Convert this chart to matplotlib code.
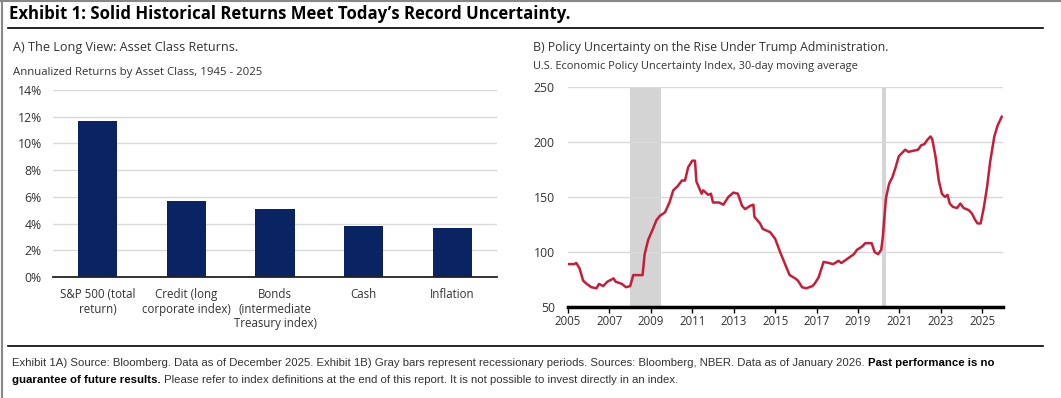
import matplotlib
matplotlib.use("Agg")
import matplotlib.pyplot as plt
from matplotlib.lines import Line2D
import numpy as np

# --- data -------------------------------------------------------------
categories = ["S&P 500 (total\nreturn)", "Credit (long\ncorporate index)",
              "Bonds\n(intermediate\nTreasury index)", "Cash", "Inflation"]
returns = [11.7, 5.7, 5.1, 3.8, 3.7]
pct_ticks = [0, 2, 4, 6, 8, 10, 12, 14]

epu_year = [2005.0, 2005.3, 2005.4, 2005.56, 2005.73, 2005.9, 2006.13, 2006.37,
            2006.5, 2006.7, 2006.9, 2007.2, 2007.3, 2007.6, 2007.8, 2008.0,
            2008.15, 2008.4, 2008.6, 2008.7, 2008.87, 2009.1, 2009.27, 2009.44,
            2009.68, 2009.9, 2010.08, 2010.3, 2010.5, 2010.65, 2010.8, 2011.0,
            2011.13, 2011.2, 2011.45, 2011.53, 2011.77, 2011.9, 2012.0, 2012.3,
            2012.5, 2012.74, 2012.98, 2013.2, 2013.4, 2013.55, 2013.8, 2013.95,
            2014.0, 2014.27, 2014.4, 2014.76, 2015.0, 2015.24, 2015.5, 2015.7,
            2015.97, 2016.1, 2016.3, 2016.5, 2016.8, 2016.9, 2017.1, 2017.34,
            2017.6, 2017.8, 2018.06, 2018.2, 2018.5, 2018.8, 2018.95, 2019.2,
            2019.35, 2019.66, 2019.8, 2019.97, 2020.12, 2020.2, 2020.35, 2020.5,
            2020.66, 2020.8, 2020.97, 2021.12, 2021.28, 2021.43, 2021.66, 2021.9,
            2022.05, 2022.2, 2022.35, 2022.5, 2022.58, 2022.74, 2022.9, 2023.05,
            2023.2, 2023.32, 2023.43, 2023.58, 2023.78, 2023.94, 2024.1, 2024.35,
            2024.5, 2024.66, 2024.77, 2024.92, 2025.08, 2025.23, 2025.38, 2025.58,
            2025.74, 2025.94]
epu_value = [89, 89, 90, 85, 74, 71, 68, 67,
             71, 69, 73, 76, 73, 71, 68, 69,
             79, 79, 79, 98, 111, 121, 129, 133,
             136, 145, 156, 160, 165, 165, 177, 183,
             183, 164, 153, 156, 152, 153, 145, 145,
             143, 150, 154, 153, 142, 139, 142, 143,
             132, 126, 121, 118, 112, 100, 88, 79,
             76, 74, 68, 67, 69, 71, 77, 91,
             90, 89, 92, 90, 94, 98, 102, 105,
             108, 108, 100, 98, 102, 114, 149, 162,
             168, 176, 187, 190, 193, 191, 192, 193,
             197, 198, 202, 205, 203, 187, 165, 153,
             150, 152, 144, 141, 140, 144, 140, 138,
             135, 129, 126, 126, 141, 159, 182, 205,
             215, 223]
recessions = [(2008.0, 2009.5), (2020.17, 2020.33)]
year_ticks = list(range(2005, 2026, 2))
epu_ticks = [50, 100, 150, 200, 250]

NAVY = "#0a2463"
RED = "#c41e3a"
GRID = "#d9d9d9"
TXT = "#333333"
FONT = "Open Sans"

plt.rcParams["font.family"] = [FONT, "DejaVu Sans"]

fig = plt.figure(figsize=(10.61, 3.98), dpi=100)
W, H = 1061, 398


def fx(px):
    return px / W


def fy(py):
    return 1 - py / H


# frame and rules
fig.add_artist(Line2D([fx(2), fx(2)], [0, 1], color="#888888", lw=1.5))
fig.add_artist(Line2D([0, 1], [fy(1), fy(1)], color="#888888", lw=1.5))
fig.add_artist(Line2D([fx(8), fx(1043)], [fy(28), fy(28)], color="black", lw=1.2))
fig.add_artist(Line2D([fx(8), fx(1043)], [fy(346), fy(346)], color="black", lw=1.2))

fig.text(fx(9), fy(14), "Exhibit 1: Solid Historical Returns Meet Today\u2019s Record Uncertainty.",
         fontsize=12.1, fontweight="bold", va="center", color="black")
fig.text(fx(13), fy(47), "A) The Long View: Asset Class Returns.", fontsize=9.1,
         va="center", color=TXT)
fig.text(fx(13), fy(73), "Annualized Returns by Asset Class, 1945 - 2025", fontsize=8.2,
         va="center", color=TXT)
fig.text(fx(533), fy(48), "B) Policy Uncertainty on the Rise Under Trump Administration.",
         fontsize=8.8, va="center", color=TXT)
fig.text(fx(533), fy(67), "U.S. Economic Policy Uncertainty Index, 30-day moving average",
         fontsize=7.9, va="center", color=TXT)

# --- panel A: bars ----------------------------------------------------
ax1 = fig.add_axes([fx(53), fy(277), fx(497 - 53), (277 - 90) / H])
x = np.arange(len(categories))
ax1.bar(x, returns, width=0.44, color=NAVY, zorder=3)
ax1.set_xlim(-0.5, len(categories) - 0.5)
ax1.set_ylim(0, 14)
ax1.set_yticks(pct_ticks)
ax1.set_yticklabels([f"{t}%" for t in pct_ticks])
ax1.set_xticks(x)
ax1.set_xticklabels(categories, linespacing=1.15)
ax1.grid(axis="y", color=GRID, lw=1, zorder=0)
for s in ["top", "right", "left"]:
    ax1.spines[s].set_visible(False)
ax1.spines["bottom"].set_color("#222222")
ax1.spines["bottom"].set_linewidth(1.3)
ax1.spines["bottom"].set_zorder(4)
ax1.tick_params(axis="both", length=0, labelsize=8.3, labelcolor=TXT)
ax1.tick_params(axis="y", pad=8, labelsize=8.8)
ax1.tick_params(axis="x", pad=8)

# --- panel B: policy uncertainty --------------------------------------
ax2 = fig.add_axes([fx(568), fy(307), fx(1003 - 568), (307 - 87) / H])
for a, b in recessions:
    ax2.axvspan(a, b, color="#d4d4d4", lw=0, zorder=1)
ax2.plot(epu_year, epu_value, color=RED, lw=1.8, zorder=3)
ax2.set_xlim(2005, 2026)
ax2.set_ylim(50, 250)
ax2.set_yticks(epu_ticks)
ax2.set_xticks(year_ticks)
ax2.grid(axis="y", color=GRID, lw=1, zorder=0)
for s in ["top", "right", "left"]:
    ax2.spines[s].set_visible(False)
ax2.spines["bottom"].set_color("black")
ax2.spines["bottom"].set_linewidth(2.5)
ax2.tick_params(axis="y", length=0, labelsize=8.8, labelcolor=TXT, pad=9.5)
ax2.tick_params(axis="x", length=4, width=1, direction="out", labelsize=8.3,
                labelcolor=TXT, pad=2)

# --- footnote ---------------------------------------------------------
line1 = ("Exhibit 1A) Source: Bloomberg. Data as of December 2025. Exhibit 1B) Gray bars "
         "represent recessionary periods. Sources: Bloomberg, NBER. Data as of January 2026. ")
bold1 = "Past performance is no"
bold2 = "guarantee of future results."
line2 = (" Please refer to index definitions at the end of this report. It is not possible "
         "to invest directly in an index.")
fs = 8.2
fam = ["Liberation Sans", "DejaVu Sans"]
t1 = fig.text(fx(12), fy(363), line1, fontsize=fs, family=fam, va="center", color=TXT)
t3 = fig.text(fx(12), fy(380), bold2, fontsize=fs, family=fam, va="center",
              fontweight="bold", color="black")
fig.canvas.draw()
r = fig.canvas.get_renderer()
e1 = t1.get_window_extent(r)
fig.text(e1.x1 / W, fy(363), bold1, fontsize=fs, family=fam, va="center",
         fontweight="bold", color="black")
e3 = t3.get_window_extent(r)
fig.text(e3.x1 / W, fy(380), line2, fontsize=fs, family=fam, va="center", color=TXT)

fig.savefig("out.png", dpi=100)
